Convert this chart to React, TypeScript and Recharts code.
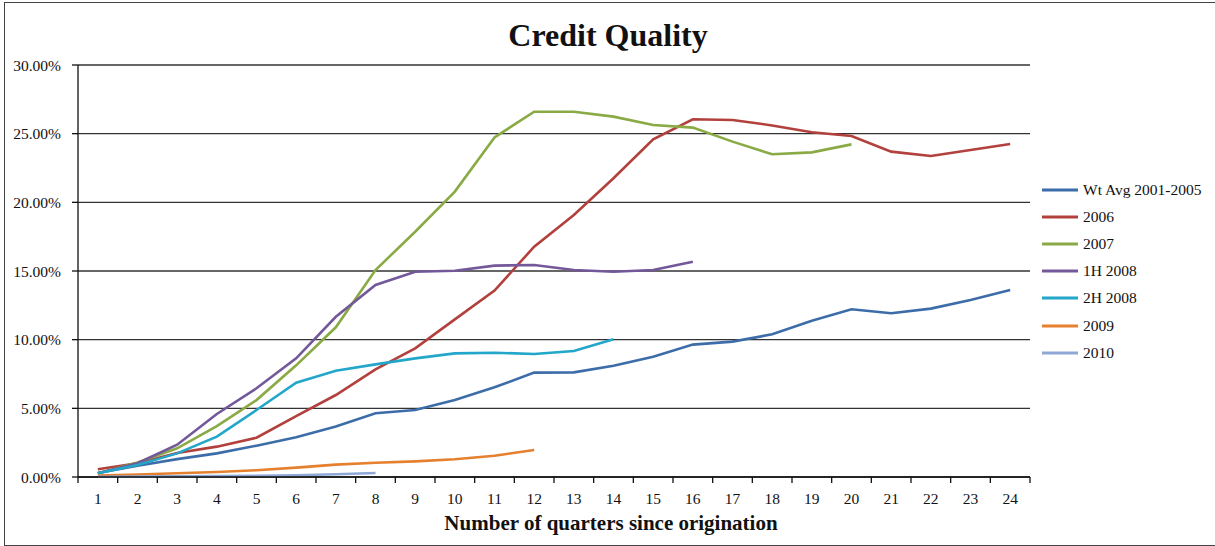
import React from 'react';
import { LineChart, Line, XAxis, YAxis, CartesianGrid, Legend } from 'recharts';

const quarters = [1, 2, 3, 4, 5, 6, 7, 8, 9, 10, 11, 12, 13, 14, 15, 16, 17, 18, 19, 20, 21, 22, 23, 24];

const wtAvg = [0.29, 0.82, 1.3, 1.72, 2.28, 2.89, 3.67, 4.64, 4.88, 5.6, 6.53, 7.6, 7.62, 8.1, 8.76, 9.64, 9.86, 10.39, 11.38, 12.21, 11.92, 12.26, 12.89, 13.62];
const y2006 = [0.56, 1.0, 1.75, 2.21, 2.86, 4.44, 5.97, 7.84, 9.37, 11.48, 13.57, 16.77, 19.08, 21.75, 24.59, 26.05, 26.0, 25.6, 25.1, 24.83, 23.69, 23.37, 23.81, 24.25];
const y2007 = [0.27, 1.06, 2.09, 3.71, 5.6, 8.13, 10.9, 15.07, 17.86, 20.78, 24.73, 26.6, 26.6, 26.24, 25.63, 25.44, 24.42, 23.5, 23.64, 24.22];
const h1y2008 = [0.27, 1.0, 2.35, 4.59, 6.46, 8.64, 11.67, 13.98, 14.95, 15.02, 15.39, 15.44, 15.07, 14.95, 15.07, 15.68];
const h2y2008 = [0.27, 0.87, 1.72, 2.94, 4.88, 6.87, 7.74, 8.2, 8.64, 9.0, 9.05, 8.96, 9.17, 10.03];
const y2009 = [0.1, 0.18, 0.27, 0.36, 0.49, 0.68, 0.9, 1.04, 1.14, 1.29, 1.55, 1.97];
const y2010 = [0.02, 0.03, 0.05, 0.07, 0.09, 0.13, 0.2, 0.29];

const yTicks = [0, 5, 10, 15, 20, 25, 30];
const xTicks = [0.5, 1, 1.5, 2, 2.5, 3, 3.5, 4, 4.5, 5, 5.5, 6, 6.5, 7, 7.5, 8, 8.5, 9, 9.5, 10, 10.5, 11, 11.5, 12, 12.5, 13, 13.5, 14, 14.5, 15, 15.5, 16, 16.5, 17, 17.5, 18, 18.5, 19, 19.5, 20, 20.5, 21, 21.5, 22, 22.5, 23, 23.5, 24, 24.5];

const series = [
  { key: 'wtAvg', name: 'Wt Avg 2001-2005', values: wtAvg, color: '#3D6DA9' },
  { key: 'y2006', name: '2006', values: y2006, color: '#B2403D' },
  { key: 'y2007', name: '2007', values: y2007, color: '#8AAA45' },
  { key: 'h1y2008', name: '1H 2008', values: h1y2008, color: '#73589A' },
  { key: 'h2y2008', name: '2H 2008', values: h2y2008, color: '#22A6C9' },
  { key: 'y2009', name: '2009', values: y2009, color: '#E5802F' },
  { key: 'y2010', name: '2010', values: y2010, color: '#8EA8D6' },
];

const data = quarters.map((q, i) => {
  const row: Record<string, number | undefined> = { q };
  series.forEach((s) => {
    row[s.key] = s.values[i];
  });
  return row;
});

const FONT = '"Liberation Serif", "Times New Roman", serif';

const XTick = (props: any) => {
  const { x, y, payload } = props;
  const v = payload.value;
  if (Number.isInteger(v)) {
    return (
      <text x={x} y={y + 27} textAnchor="middle" fontSize={15.5} fontFamily={FONT} fill="#111">
        {v}
      </text>
    );
  }
  return <line x1={x} x2={x} y1={y} y2={y + 6} stroke="#111" strokeWidth={1.3} />;
};

const renderLegend = () => (
  <div style={{ fontFamily: FONT, fontSize: 15.5, color: '#111' }}>
    {series.map((s) => (
      <div key={s.key} style={{ display: 'flex', alignItems: 'center', height: 27.2 }}>
        <svg width={41} height={6} style={{ display: 'block' }}>
          <line x1={0} x2={36} y1={3} y2={3} stroke={s.color} strokeWidth={3} />
        </svg>
        <span style={{ whiteSpace: 'nowrap' }}>{s.name}</span>
      </div>
    ))}
  </div>
);

export default function App() {
  return (
    <div style={{ position: 'absolute', left: 0, top: 0, width: 1215, height: 546, overflow: 'hidden', background: '#fff' }}>
      <div
        style={{
          position: 'absolute',
          left: 4,
          top: 2,
          width: 1240,
          height: 544,
          border: '1.5px solid #444',
          boxSizing: 'border-box',
        }}
      />
      <div
        style={{
          position: 'absolute',
          left: 0,
          width: 1215,
          top: 19,
          fontFamily: FONT,
          fontWeight: 'bold',
          fontSize: 32,
          lineHeight: '32px',
          color: '#111',
        }}
      >
        <span style={{ position: 'absolute', left: 608, transform: 'translateX(-50%)', whiteSpace: 'nowrap' }}>Credit Quality</span>
      </div>
      <div
        style={{
          position: 'absolute',
          left: 0,
          top: 513,
          fontFamily: FONT,
          fontWeight: 'bold',
          fontSize: 21,
          lineHeight: '21px',
          color: '#111',
        }}
      >
        <span style={{ position: 'absolute', left: 611, transform: 'translateX(-50%)', whiteSpace: 'nowrap' }}>
          Number of quarters since origination
        </span>
      </div>
      <div style={{ position: 'absolute', left: 0, top: 0 }}>
        <LineChart width={1215} height={546} data={data} margin={{ top: 65, right: 185, bottom: 0, left: 0 }}>
          <CartesianGrid vertical={false} stroke="#333" strokeWidth={1.3} />
          <XAxis
            dataKey="q"
            type="number"
            domain={[0.5, 24.5]}
            ticks={xTicks}
            interval={0}
            tickSize={0}
            tickMargin={0}
            tickLine={false}
            tick={<XTick />}
            height={69}
            axisLine={{ stroke: '#111', strokeWidth: 1.3 }}
            allowDecimals
          />
          <YAxis
            type="number"
            domain={[0, 30]}
            ticks={yTicks}
            interval={0}
            width={78}
            tickSize={6}
            tickMargin={11}
            tickFormatter={(v: number) => `${v.toFixed(2)}%`}
            tick={{ fontSize: 15.5, fontFamily: FONT, fill: '#111' }}
            tickLine={{ stroke: '#111', strokeWidth: 1.3 }}
            axisLine={{ stroke: '#111', strokeWidth: 1.3 }}
          />
          <Legend
            layout="vertical"
            align="center"
            verticalAlign="middle"
            content={renderLegend}
            wrapperStyle={{ left: 1042, top: 176, width: 170 }}
          />
          {series.map((s) => (
            <Line
              key={s.key}
              dataKey={s.key}
              name={s.name}
              stroke={s.color}
              strokeWidth={2.6}
              dot={false}
              activeDot={false}
              isAnimationActive={false}
              type="linear"
            />
          ))}
        </LineChart>
      </div>
    </div>
  );
}
